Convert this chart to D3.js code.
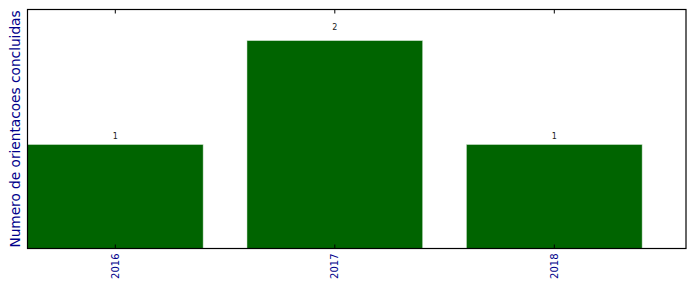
<!DOCTYPE html>
<html>
<head>
<meta charset="utf-8">
<script src="https://cdn.jsdelivr.net/npm/d3@7"></script>
<style>
  body { margin: 0; background: #fff; }
  svg { display: block; font-family: "DejaVu Sans", sans-serif; }
</style>
</head>
<body>
<svg id="chart" width="696" height="292"></svg>
<script>
const years = ["2016", "2017", "2018"];
const counts = [1, 2, 1];
const yLabel = "Numero de orientacoes concluidas";

const width = 696, height = 292;
const margin = { top: 9.5, right: 10, bottom: 43.5, left: 27.5 };
const svg = d3.select("#chart");

const x = d3.scaleLinear()
  .domain([-0.4, years.length - 0.4])
  .range([margin.left, width - margin.right]);
const y = d3.scaleLinear()
  .domain([0, 2.3])
  .range([height - margin.bottom, margin.top]);

const barW = x(0.8) - x(0);

svg.append("g")
  .selectAll("rect")
  .data(counts)
  .enter()
  .append("rect")
  .attr("x", (d, i) => x(i - 0.4))
  .attr("y", d => y(d))
  .attr("width", barW)
  .attr("height", d => y(0) - y(d))
  .attr("fill", "#006400")
  .attr("stroke", "#c8e0c8")
  .attr("stroke-width", 0.5);

// value labels sit just above 1.05 * height
svg.append("g")
  .selectAll("text")
  .data(counts)
  .enter()
  .append("text")
  .attr("x", (d, i) => x(i))
  .attr("y", d => y(d * 1.05))
  .attr("text-anchor", "middle")
  .attr("font-size", 8)
  .attr("fill", "#222")
  .text(d => d);

// frame
svg.append("rect")
  .attr("x", margin.left)
  .attr("y", margin.top)
  .attr("width", width - margin.right - margin.left)
  .attr("height", height - margin.bottom - margin.top)
  .attr("fill", "none")
  .attr("stroke", "#000")
  .attr("stroke-width", 1.2);

// ticks inside, bottom and top
const ticks = svg.append("g");
years.forEach((yr, i) => {
  ticks.append("line")
    .attr("x1", x(i)).attr("x2", x(i))
    .attr("y1", y(0)).attr("y2", y(0) - 4)
    .attr("stroke", "#000");
  ticks.append("line")
    .attr("x1", x(i)).attr("x2", x(i))
    .attr("y1", margin.top).attr("y2", margin.top + 4)
    .attr("stroke", "#000");
});

svg.append("g")
  .selectAll("text")
  .data(years)
  .enter()
  .append("text")
  .attr("transform", (d, i) => `translate(${x(i) + 3.5},${y(0) + 5}) rotate(-90)`)
  .attr("text-anchor", "end")
  .attr("font-size", 10)
  .attr("fill", "#00008b")
  .text(d => d);

svg.append("text")
  .attr("transform", `translate(19.5,129) rotate(-90)`)
  .attr("text-anchor", "middle")
  .attr("font-size", 13.7)
  .attr("fill", "#00008b")
  .text(yLabel);
</script>
</body>
</html>
